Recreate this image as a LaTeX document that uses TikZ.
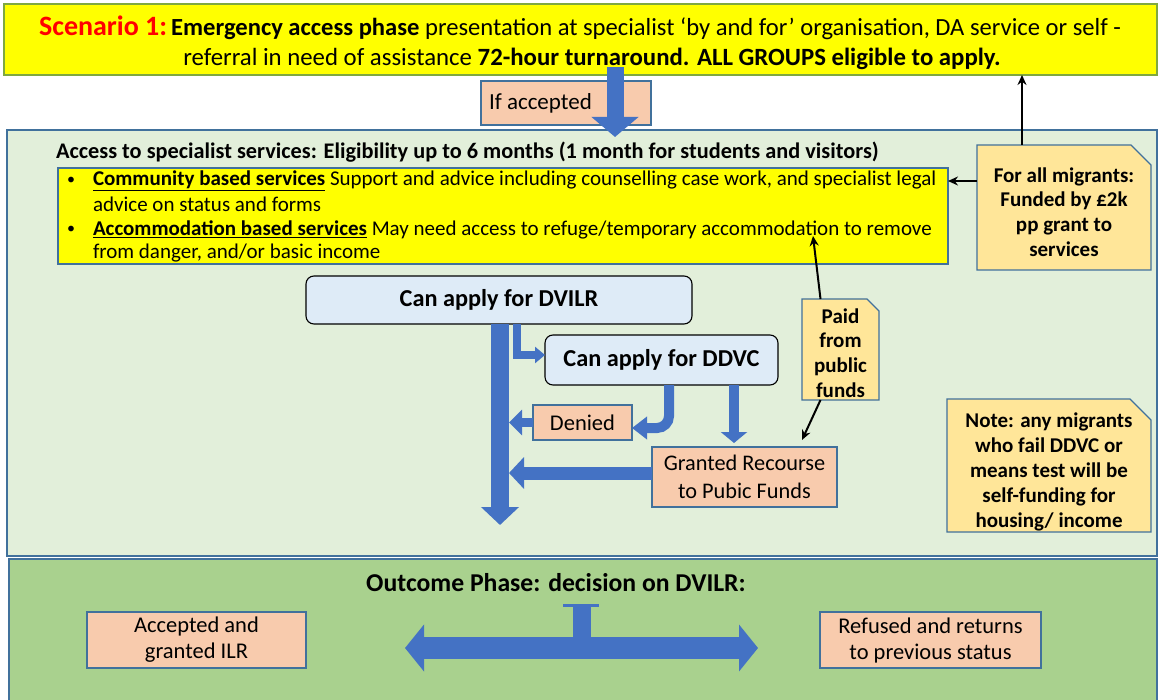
\documentclass[tikz,border=0pt]{standalone}
\usepackage{fontspec}
\setmainfont{Carlito}
\usetikzlibrary{arrows.meta,calc}
\definecolor{ylw}{HTML}{FFFF00}
\definecolor{topbdr}{HTML}{7FA83F}
\definecolor{lgreen}{HTML}{E2EFDA}
\definecolor{dgreen}{HTML}{A9D18E}
\definecolor{bdr}{HTML}{41719C}
\definecolor{salmon}{HTML}{F8CBAD}
\definecolor{notefill}{HTML}{FFE699}
\definecolor{lblue}{HTML}{DEEBF7}
\definecolor{arrowblue}{HTML}{4472C4}
\definecolor{scred}{HTML}{FF0000}
\begin{document}
\begin{tikzpicture}[x=1pt,y=-1pt,
  every node/.style={inner sep=0pt,outer sep=0pt},
  panel/.style={draw=bdr,line width=1.2pt},
  salmonbox/.style={draw=bdr,line width=1.2pt,fill=salmon},
  lbluebox/.style={draw=black,line width=1.1pt,fill=lblue,rounded corners=8pt},
  notebody/.style={fill=notefill,draw=bdr,line width=1.2pt},
  notetxt/.style={font=\fontsize{21}{24.8}\selectfont\bfseries,align=center},
  boxtxt/.style={font=\fontsize{22.5}{27}\selectfont,align=center},
  ytxt/.style={font=\fontsize{21}{24}\selectfont,anchor=west},
  blk/.style={draw=black,line width=2pt,-{Stealth[length=10pt,width=9pt]}},
  fat/.style={draw=arrowblue}]
\useasboundingbox (0,0) rectangle (1158,700);
\fill[white] (0,0) rectangle (1158,700);

% ---------- panels ----------
\node[fill=ylw,draw=topbdr,line width=1.5pt,minimum width=1153pt,minimum height=71pt] (top) at (580.5,39.5) {};
\node[panel,fill=lgreen,minimum width=1150pt,minimum height=426pt] (lg) at (582,343) {};
\node[panel,fill=dgreen,minimum width=1148pt,minimum height=144pt] (dg) at (583,631) {};

% ---------- top text ----------
\node[font=\fontsize{24.6}{29}\selectfont] (top1) at (580,28)
  {\textcolor{scred}{\fontsize{28}{30}\selectfont\bfseries Scenario 1:}\,\textbf{Emergency access phase} presentation at specialist ‘by and for’ organisation, DA service or self -};
\node[font=\fontsize{24.8}{29}\selectfont] (top2) at (592,59)
  {referral in need of assistance \textbf{72-hour turnaround. ALL GROUPS eligible to apply.}};

% ---------- if accepted ----------
\node[salmonbox,minimum width=170pt,minimum height=44pt] (ifacc) at (566,103) {};
\node[font=\fontsize{23}{27}\selectfont,anchor=west] (ifacctxt) at ([xshift=8pt]ifacc.west) {If accepted};
\coordinate (a1s) at (615,67);
\coordinate (a1e) at (615,137);
\draw[fat,line width=17pt,-{Triangle[width=46pt,length=20pt]}] (a1s) -- (a1e);

% ---------- access section ----------
\node[anchor=west,font=\fontsize{22.3}{26}\selectfont\bfseries] (title) at (56,152)
  {Access to specialist services: Eligibility up to 6 months (1 month for students and visitors)};
\node[panel,fill=ylw,minimum width=890pt,minimum height=96pt] (ybox) at (503,216) {};
\node[ytxt,font=\fontsize{16}{20}\selectfont] (b1) at (67,181) {•};
\node[ytxt,font=\fontsize{16}{20}\selectfont] (b2) at (67,230) {•};
\node[ytxt] (l1) at (93,181) {\underline{\textbf{Community based services}}\ Support and advice including counselling case work, and specialist legal};
\node[ytxt] (l2) at (93,204) {advice on status and forms};
\node[ytxt] (l3) at (93,230) {\underline{\textbf{Accommodation based services}} May need access to refuge/temporary accommodation to remove};
\node[ytxt] (l4) at (93,253) {from danger, and/or basic income};

% ---------- notes ----------
\node[minimum width=174pt,minimum height=125pt] (fam) at (1064,207.5) {};
\path[notebody] (fam.south west) -- (fam.north west) -- ([xshift=-20pt]fam.north east) -- ([yshift=-20pt]fam.north east) -- (fam.south east) -- cycle;
\node[notetxt] (famtxt) at ([yshift=-4.5pt]fam.center) {For all migrants:\\Funded by £2k\\pp grant to\\services};

\node[minimum width=77pt,minimum height=101pt] (paid) at (840.5,349.5) {};
\path[notebody] (paid.south west) -- (paid.north west) -- ([xshift=-12pt]paid.north east) -- ([yshift=-12pt]paid.north east) -- (paid.south east) -- cycle;
\node[notetxt] (paidtxt) at ([yshift=-3.5pt]paid.center) {Paid\\from\\public\\funds};

\node[minimum width=204pt,minimum height=133pt] (note) at (1049,465.5) {};
\path[notebody] (note.south west) -- (note.north west) -- ([xshift=-21pt]note.north east) -- ([yshift=-21pt]note.north east) -- (note.south east) -- cycle;
\node[notetxt] (notetx) at ([yshift=-6.5pt]note.center) {Note: any migrants\\who fail DDVC or\\means test will be\\self-funding for\\housing/ income};

% ---------- flow boxes ----------
\node[lbluebox,minimum width=386pt,minimum height=48pt,font=\fontsize{24.3}{28}\selectfont\bfseries] (dvilr) at (499,300) {Can apply for DVILR};
\node[lbluebox,minimum width=233pt,minimum height=50pt,font=\fontsize{24.3}{28}\selectfont\bfseries] (ddvc) at (661.5,360) {Can apply for DDVC};
\node[salmonbox,minimum width=99pt,minimum height=35pt,boxtxt] (denied) at (582.5,422.5) {Denied};
\node[salmonbox,minimum width=185pt,minimum height=60pt,boxtxt,font=\fontsize{22.3}{27.5}\selectfont] (granted) at (744.5,477) {Granted Recourse\\to Pubic Funds};

% blue flow arrows
\coordinate (mainend) at (500,525);
\coordinate (shaftR) at (509,0);
\draw[fat,line width=18pt,-{Triangle[width=37pt,length=18pt]}] (dvilr.south -| mainend) -- (mainend);
\draw[fat,line width=8pt,-{Triangle[width=16pt,length=10pt]}] ([xshift=18pt]dvilr.south) |- ([yshift=5pt]ddvc.west);
\draw[fat,line width=10pt,rounded corners=12pt,-{Triangle[width=22pt,length=15pt]}] ([xshift=7.5pt]ddvc.south) |- ([yshift=-5.5pt]denied.east);
\draw[fat,line width=10pt,-{Triangle[width=26pt,length=11pt]}] ([xshift=72.5pt]ddvc.south) -- ([xshift=-10.5pt,yshift=4pt]granted.north);
\draw[fat,line width=13pt,-{Triangle[width=31pt,length=15pt]}] ([yshift=4pt]granted.west) -- ([yshift=4pt]granted.west -| shaftR);
\draw[fat,line width=9pt,-{Triangle[width=25pt,length=13pt]}] (denied.west) -- (denied.west -| shaftR);

% black arrows
\coordinate (y181) at (0,181);
\coordinate (x1022) at (1022,0);
\coordinate (paidtgt) at (813,236);
\coordinate (grtgt) at ($(granted.north east)+(-35,-7)$);
\draw[blk] (fam.west |- y181) -- (ybox.east |- y181);
\draw[blk] (fam.north -| x1022) -- (top.south -| x1022);
\draw[blk] ($(paid.north)+(-20,0)$) -- (paidtgt);
\draw[blk] ($(paid.south)+(-20,0)$) -- (grtgt);

% ---------- outcome ----------
\node[font=\fontsize{25.7}{30}\selectfont\bfseries] (outc) at (556,583) {Outcome Phase: decision on DVILR:};
\node[salmonbox,minimum width=219pt,minimum height=56pt,font=\fontsize{22.5}{26}\selectfont,align=center] (acc) at (196.5,640) {Accepted and\\granted ILR};
\node[salmonbox,minimum width=221pt,minimum height=56pt,font=\fontsize{22.5}{26}\selectfont,align=center] (ref) at (930.5,640) {Refused and returns\\to previous status};
\coordinate (tcap) at (582,605.5);
\coordinate (dl) at (405,648);
\coordinate (dr) at (758,648);
\draw[fat,line width=18pt] (tcap) -- (tcap |- dl);
\draw[fat,line width=3pt] ([xshift=-19pt]tcap) -- ([xshift=17pt]tcap);
\draw[fat,line width=22pt,{Triangle[width=46pt,length=19pt]}-{Triangle[width=46pt,length=19pt]}] (dl) -- (dr);
\end{tikzpicture}
\end{document}
